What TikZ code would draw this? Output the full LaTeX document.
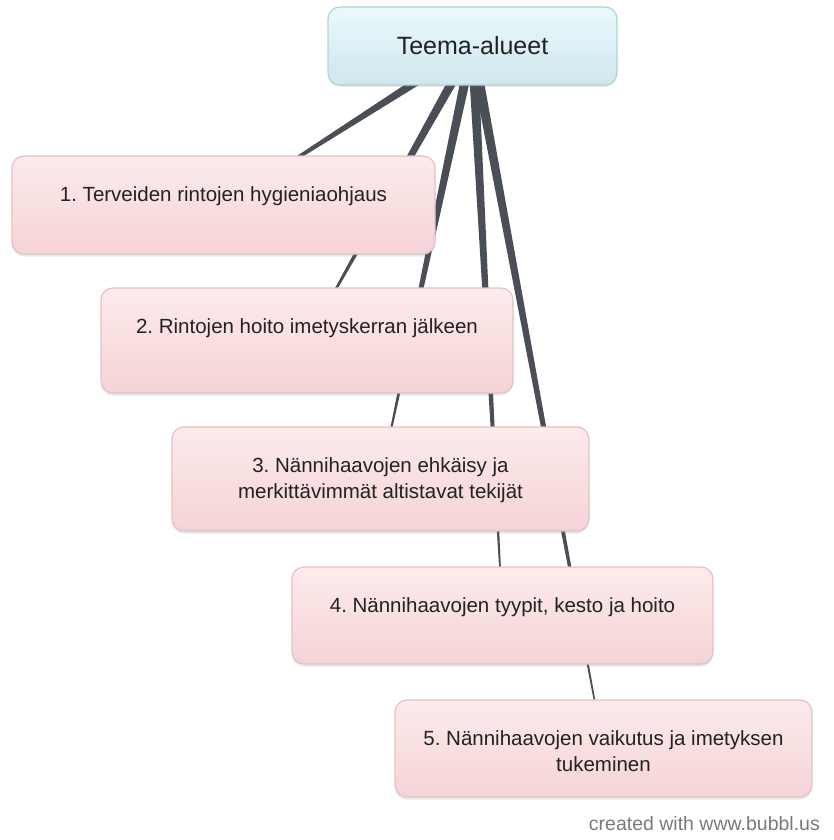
\documentclass[tikz,border=0pt]{standalone}
\usepackage{fontspec}
\setmainfont{Liberation Sans}
\usetikzlibrary{calc,shadows}
\frenchspacing
\definecolor{linec}{HTML}{4A4E57}
\definecolor{rootTop}{HTML}{EAF9FC}
\definecolor{rootBot}{HTML}{CFE7EE}
\definecolor{rootBorder}{HTML}{B3D2DA}
\definecolor{pinkTop}{HTML}{FDEBEB}
\definecolor{pinkBot}{HTML}{F5D3D6}
\definecolor{pinkBorder}{HTML}{E2C2C5}
\definecolor{txt}{HTML}{222222}
\definecolor{foot}{HTML}{7A7A7A}
\pgfdeclarelayer{bg}
\pgfsetlayers{bg,main}
\tikzset{
  rootbox/.style={draw=rootBorder, line width=1.2pt, rounded corners=12pt,
    top color=rootTop, bottom color=rootBot,
    drop shadow={shadow xshift=0pt, shadow yshift=-2pt, opacity=0.18},
    minimum width=289pt, minimum height=78pt, inner sep=0pt,
    font=\fontsize{25}{30}\selectfont, text=txt},
  topicbox/.style={draw=pinkBorder, line width=1.2pt, rounded corners=12pt,
    top color=pinkTop, bottom color=pinkBot,
    drop shadow={shadow xshift=0pt, shadow yshift=-2.5pt, opacity=0.18},
    inner sep=0pt},
  topictext/.style={anchor=north, inner sep=0pt, align=center, text=txt,
    font=\fontsize{20.5}{26}\selectfont},
}
\newcommand{\taper}[2]{%
  \fill[linec] ($(#1.center)!5pt!90:(#2.center)$) -- ($(#2.center)!0.5pt!-90:(#1.center)$)
    -- ($(#2.center)!0.5pt!90:(#1.center)$) -- ($(#1.center)!5pt!-90:(#2.center)$) -- cycle;}
\begin{document}
\begin{tikzpicture}[x=1pt,y=-1pt]
\useasboundingbox (0,0) rectangle (833,840);
\node[rootbox] (root) at (472.5,46) {Teema-alueet};
\node[topicbox, minimum width=423pt, minimum height=98pt] (b1) at (223.5,205) {};
\node[topicbox, minimum width=412pt, minimum height=105pt] (b2) at (307,340.5) {};
\node[topicbox, minimum width=417pt, minimum height=104pt] (b3) at (380.5,479) {};
\node[topicbox, minimum width=421pt, minimum height=97pt] (b4) at (502.5,615.5) {};
\node[topicbox, minimum width=417pt, minimum height=97pt] (b5) at (603.5,748.5) {};
\node[topictext] (t1) at ($(b1.north)+(0,31)$) {1. Terveiden rintojen hygieniaohjaus};
\node[topictext] (t2) at ($(b2.north)+(0,31)$) {2. Rintojen hoito imetyskerran jälkeen};
\node[topictext] (t3) at ($(b3.north)+(0,31)$) {3. Nännihaavojen ehkäisy ja\\merkittävimmät altistavat tekijät};
\node[topictext] (t4) at ($(b4.north)+(0,31)$) {4. Nännihaavojen tyypit, kesto ja hoito};
\node[topictext] (t5) at ($(b5.north)+(0,31)$) {5. Nännihaavojen vaikutus ja imetyksen\\tukeminen};
\node[anchor=base east, inner sep=0pt, text=foot, font=\fontsize{19.5}{23}\selectfont] (footer) at (820,830) {created with www.bubbl.us};
\begin{pgfonlayer}{bg}
\fill[white] (0,0) rectangle (833,840);
\taper{root}{b1}
\taper{root}{b2}
\taper{root}{b3}
\taper{root}{b4}
\taper{root}{b5}
\end{pgfonlayer}
\end{tikzpicture}
\end{document}
